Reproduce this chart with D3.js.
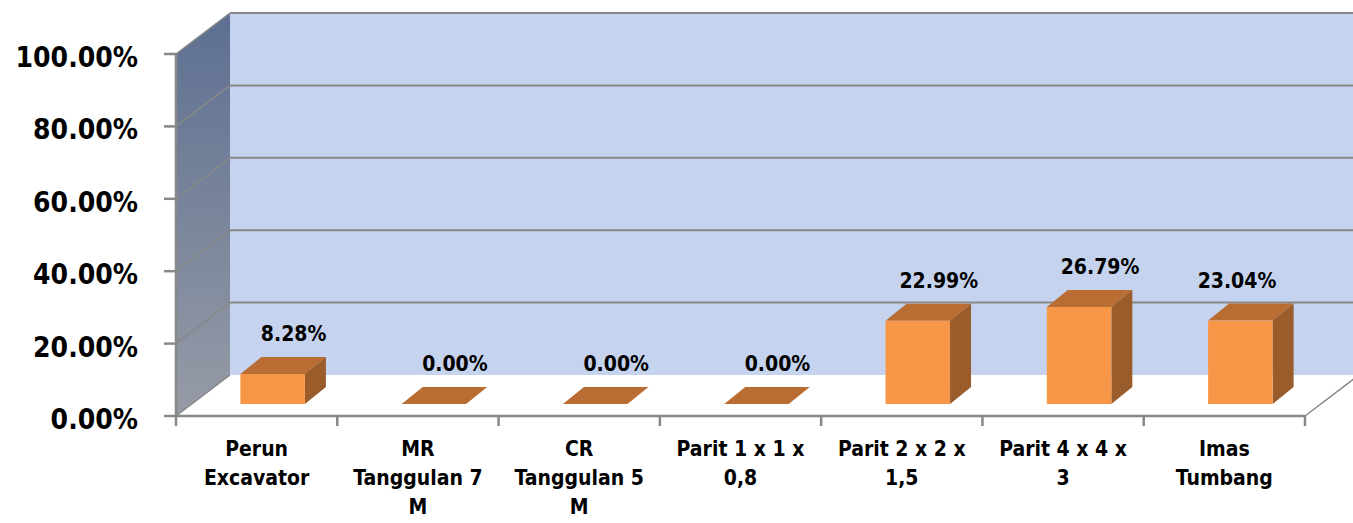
<!DOCTYPE html>
<html>
<head>
<meta charset="utf-8">
<script src="https://cdn.jsdelivr.net/npm/d3@7"></script>
<style>
  body { margin: 0; background: #fff; }
  svg { display: block; font-family: "DejaVu Sans Condensed", "DejaVu Sans", sans-serif; font-stretch: condensed; font-weight: bold; }
</style>
</head>
<body>
<div id="chart"></div>
<script>
// Datos del gráfico
const categories = [
  ['Perun', 'Excavator'],
  ['MR', 'Tanggulan 7', 'M'],
  ['CR', 'Tanggulan 5', 'M'],
  ['Parit 1 x 1 x', '0,8'],
  ['Parit 2 x 2 x', '1,5'],
  ['Parit 4 x 4 x', '3'],
  ['Imas', 'Tumbang']
];
const values = [8.28, 0.00, 0.00, 0.00, 22.99, 26.79, 23.04];
const yTicks = [0, 20, 40, 60, 80, 100];

const W = 1353, H = 523;
// Esquina frontal del plano y profundidad
const x0 = 176, x1 = 1305;
const yTop = 54, yBase = 416;
const depth = { dx: 54, dy: -41 };

const svg = d3.select('#chart').append('svg')
  .attr('width', W).attr('height', H);

const x = d3.scaleBand()
  .domain(d3.range(categories.length))
  .range([x0, x1])
  .paddingInner(0).paddingOuter(0);

const y = d3.scaleLinear().domain([0, 100]).range([yBase, yTop]);

// Gradiente de la pared lateral
const defs = svg.append('defs');
const grad = defs.append('linearGradient')
  .attr('id', 'sideWall').attr('x1', 0).attr('y1', 0).attr('x2', 0).attr('y2', 1);
grad.append('stop').attr('offset', '0%').attr('stop-color', '#5d6f91');
grad.append('stop').attr('offset', '100%').attr('stop-color', '#969ba6');

const gridColor = '#888888';

// Pared de fondo
svg.append('rect')
  .attr('x', x0 + depth.dx).attr('y', yTop + depth.dy)
  .attr('width', W - (x0 + depth.dx) + 10)
  .attr('height', yBase - yTop)
  .attr('fill', '#c5d3ee');

// Pared lateral
svg.append('path')
  .attr('d', `M${x0},${yTop}L${x0 + depth.dx},${yTop + depth.dy}L${x0 + depth.dx},${yBase + depth.dy}L${x0},${yBase}Z`)
  .attr('fill', 'url(#sideWall)');

// Líneas de cuadrícula (pared lateral y pared de fondo)
yTicks.forEach(t => {
  const yy = y(t);
  if (t > 0) {
    svg.append('line')
      .attr('x1', x0).attr('y1', yy)
      .attr('x2', x0 + depth.dx).attr('y2', yy + depth.dy)
      .attr('stroke', gridColor).attr('stroke-width', 1.5);
    svg.append('line')
      .attr('x1', x0 + depth.dx).attr('y1', yy + depth.dy)
      .attr('x2', W + 5).attr('y2', yy + depth.dy)
      .attr('stroke', gridColor).attr('stroke-width', 2);
  }
});

// Suelo: borde frontal, diagonal derecha y diagonal izquierda
svg.append('line')
  .attr('x1', x0).attr('y1', yBase).attr('x2', x0 + depth.dx).attr('y2', yBase + depth.dy)
  .attr('stroke', gridColor).attr('stroke-width', 1.5);
svg.append('line')
  .attr('x1', x1).attr('y1', yBase).attr('x2', x1 + depth.dx).attr('y2', yBase + depth.dy)
  .attr('stroke', gridColor).attr('stroke-width', 1.5);
svg.append('line')
  .attr('x1', x0).attr('y1', yBase).attr('x2', x1).attr('y2', yBase)
  .attr('stroke', gridColor).attr('stroke-width', 2.5);

// Eje vertical y marcas
svg.append('line')
  .attr('x1', x0).attr('y1', yTop).attr('x2', x0).attr('y2', yBase)
  .attr('stroke', gridColor).attr('stroke-width', 2.5);
yTicks.forEach(t => {
  svg.append('line')
    .attr('x1', x0 - 12).attr('y1', y(t)).attr('x2', x0).attr('y2', y(t))
    .attr('stroke', gridColor).attr('stroke-width', 2.5);
  svg.append('text')
    .attr('x', 138).attr('y', y(t) + 13)
    .attr('text-anchor', 'end')
    .style('font-size', '28px')
    .style('fill', '#000')
    .text(t.toFixed(2) + '%');
});

// Marcas del eje de categorías
d3.range(categories.length + 1).forEach(i => {
  const xx = x0 + i * x.bandwidth();
  svg.append('line')
    .attr('x1', xx).attr('y1', yBase).attr('x2', xx).attr('y2', yBase + 10)
    .attr('stroke', gridColor).attr('stroke-width', 2.5);
});

// Barras 3D
const barFrac = 0.40;           // ancho relativo de la cara frontal
const frontOff = { dx: 16, dy: -12 };
const barDepth = { dx: 21, dy: -17 };
const hScale = d3.scaleLinear().domain([0, 100]).range([0, yBase - yTop]);

values.forEach((v, i) => {
  const bw = x.bandwidth() * barFrac;
  const bx = x(i) + x.bandwidth() / 2 - bw / 2 + frontOff.dx;
  const by = yBase + frontOff.dy;
  const h = hScale(v);
  const top = by - h;
  const g = svg.append('g');

  // Cara superior
  g.append('path')
    .attr('d', `M${bx},${top}L${bx + barDepth.dx},${top + barDepth.dy}L${bx + bw + barDepth.dx},${top + barDepth.dy}L${bx + bw},${top}Z`)
    .attr('fill', '#b96d33');

  if (h > 0) {
    // Cara lateral
    g.append('path')
      .attr('d', `M${bx + bw},${top}L${bx + bw + barDepth.dx},${top + barDepth.dy}L${bx + bw + barDepth.dx},${by + barDepth.dy}L${bx + bw},${by}Z`)
      .attr('fill', '#9a5c2b');
    // Cara frontal
    g.append('rect')
      .attr('x', bx).attr('y', top).attr('width', bw).attr('height', h)
      .attr('fill', '#f79646');
  }

  // Etiqueta de datos
  let lx = bx + bw / 2 + barDepth.dx;
  lx = Math.min(lx, 1237);
  g.append('text')
    .attr('x', lx).attr('y', top + barDepth.dy - 16)
    .attr('text-anchor', 'middle')
    .style('font-size', '21px')
    .style('fill', '#000')
    .text(v.toFixed(2) + '%');
});

// Etiquetas de categorías
categories.forEach((lines, i) => {
  const t = svg.append('text')
    .attr('text-anchor', 'middle')
    .style('font-size', '21px')
    .style('fill', '#000');
  lines.forEach((ln, j) => {
    t.append('tspan')
      .attr('x', x(i) + x.bandwidth() / 2)
      .attr('y', 456 + j * 29)
      .text(ln);
  });
});
</script>
</body>
</html>
